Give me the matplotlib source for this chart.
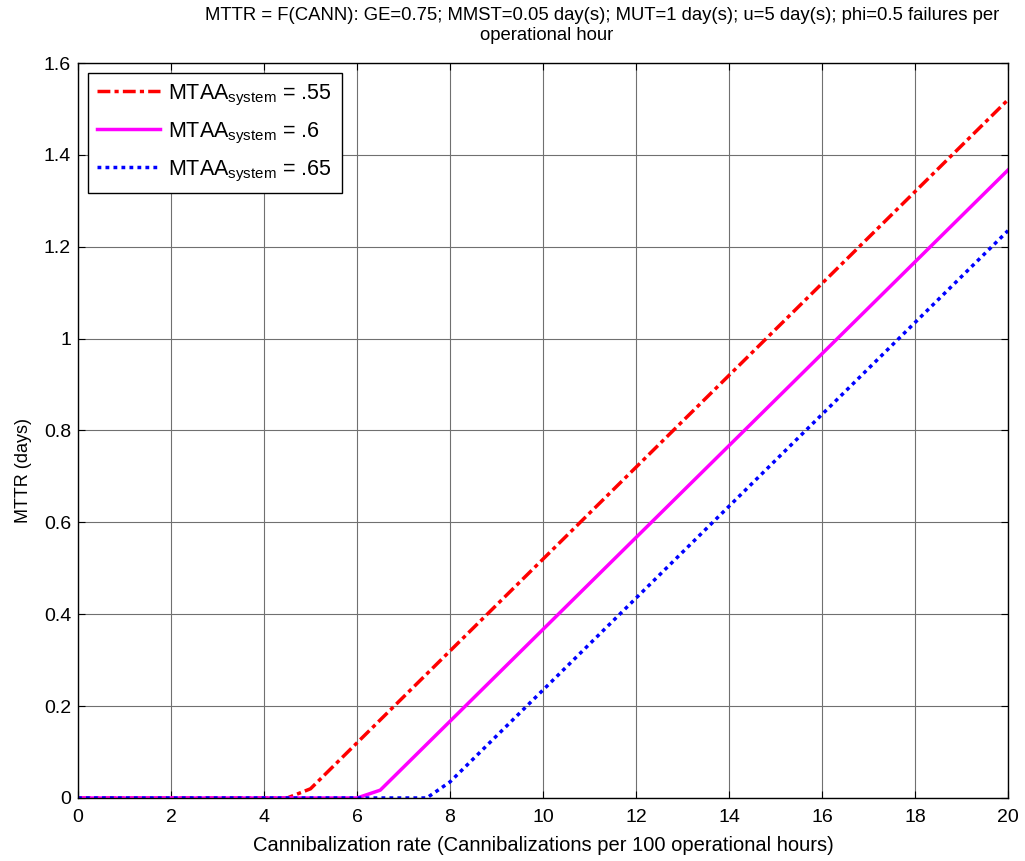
import matplotlib
matplotlib.use("Agg")
import matplotlib.pyplot as plt

plt.rcParams['font.family'] = ['Liberation Sans', 'DejaVu Sans']
plt.rcParams['mathtext.fontset'] = 'custom'
plt.rcParams['mathtext.rm'] = 'Liberation Sans'

# breakpoints (lines are straight between them)
x_55 = [0, 4.5, 5, 20]
y_55 = [0, 0, 0.02, 1.52]
x_60 = [0, 6, 6.5, 20]
y_60 = [0, 0, 0.017, 1.367]
x_65 = [0, 7.5, 8, 20]
y_65 = [0, 0, 0.035, 1.235]

labels = [r'MTAA$_{\rm system}$ = .55', r'MTAA$_{\rm system}$ = .6', r'MTAA$_{\rm system}$ = .65']
xticks = list(range(0, 21, 2))
yticks = [0, 0.2, 0.4, 0.6, 0.8, 1.0, 1.2, 1.4, 1.6]
ytick_labels = ['0', '0.2', '0.4', '0.6', '0.8', '1', '1.2', '1.4', '1.6']
title1 = 'MTTR = F(CANN): GE=0.75; MMST=0.05 day(s); MUT=1 day(s); u=5 day(s); phi=0.5 failures per'
title2 = 'operational hour'

fig = plt.figure(figsize=(10.25, 8.61), dpi=100)
ax = fig.add_axes([0.0761, 0.0732, 0.9073, 0.8536])

ax.plot(x_55, y_55, color='red', linestyle=(0, (3.7, 1.2, 1.2, 1.2)), linewidth=2.5, label=labels[0])
ax.plot(x_60, y_60, color='magenta', linestyle='-', linewidth=2.5, label=labels[1])
ax.plot(x_65, y_65, color='blue', linestyle=(0, (1.1, 1.2)), linewidth=2.5, label=labels[2])

ax.set_xlim(0, 20)
ax.set_ylim(0, 1.6)
ax.set_xticks(xticks)
ax.set_yticks(yticks)
ax.set_yticklabels(ytick_labels)
ax.tick_params(direction='in', top=True, right=True, labelsize=14, length=5, pad=5)
ax.tick_params(axis='x', pad=8)
ax.grid(True, color='#707070', linewidth=0.8)
for s in ax.spines.values():
    s.set_linewidth(1.0)

ax.set_xlabel('Cannibalization rate (Cannibalizations per 100 operational hours)', fontsize=14.5, labelpad=7)
ax.set_ylabel('MTTR (days)', fontsize=13)
ax.yaxis.set_label_coords(-0.049, 0.446)

# title split in two lines, placed like the original
fig.text(602 / 1025, 1 - 15 / 861, title1, ha='center', va='center', fontsize=13.3)
fig.text(547 / 1025, 1 - 36 / 861, title2, ha='center', va='center', fontsize=13.3)

leg = ax.legend(loc='upper left', fontsize=15.5, frameon=True, fancybox=False, framealpha=1,
                edgecolor='black', borderaxespad=0.45, handlelength=2.9, handletextpad=0.4,
                labelspacing=0.6, borderpad=0.45)
leg.get_frame().set_linewidth(1.0)

fig.savefig('out.png', dpi=100)
